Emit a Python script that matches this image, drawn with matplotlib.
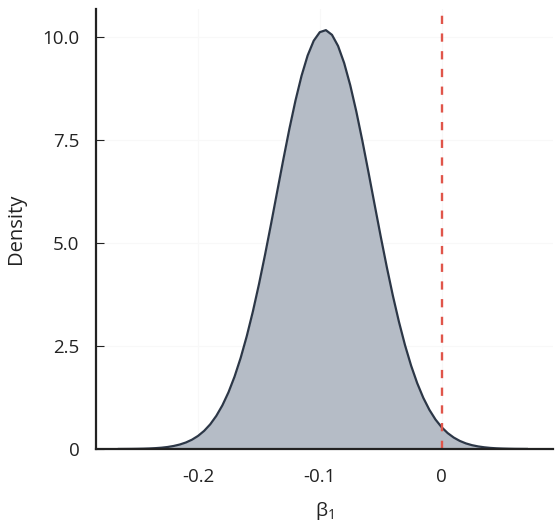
import numpy as np
import matplotlib
matplotlib.use("Agg")
import matplotlib.pyplot as plt

plt.rcParams['font.family'] = ['Open Sans', 'DejaVu Sans']
plt.rcParams['mathtext.default'] = 'regular'

# posterior density of beta_1
beta = [-0.265, -0.260, -0.255, -0.250, -0.245, -0.240, -0.235, -0.230, -0.225, -0.220,
        -0.215, -0.210, -0.205, -0.200, -0.195, -0.190, -0.185, -0.180, -0.175, -0.170,
        -0.165, -0.160, -0.155, -0.150, -0.145, -0.140, -0.135, -0.130, -0.125, -0.120,
        -0.115, -0.110, -0.105, -0.100, -0.095, -0.090, -0.085, -0.080, -0.075, -0.070,
        -0.065, -0.060, -0.055, -0.050, -0.045, -0.040, -0.035, -0.030, -0.025, -0.020,
        -0.015, -0.010, -0.005, 0.000, 0.005, 0.010, 0.015, 0.020, 0.025, 0.030,
        0.035, 0.040, 0.045, 0.050, 0.055, 0.060, 0.065, 0.070]
density = [0.001, 0.002, 0.003, 0.005, 0.008, 0.013, 0.021, 0.032, 0.049, 0.074,
           0.109, 0.158, 0.226, 0.318, 0.440, 0.599, 0.804, 1.060, 1.376, 1.758,
           2.211, 2.737, 3.333, 3.995, 4.712, 5.468, 6.247, 7.021, 7.768, 8.455,
           9.058, 9.551, 9.910, 10.118, 10.167, 10.053, 9.783, 9.369, 8.830, 8.190,
           7.474, 6.713, 5.934, 5.162, 4.419, 3.722, 3.087, 2.518, 2.022, 1.598,
           1.242, 0.951, 0.716, 0.531, 0.387, 0.278, 0.196, 0.136, 0.093, 0.063,
           0.042, 0.027, 0.017, 0.011, 0.007, 0.004, 0.003, 0.002]
ref_value = 0.0

xticks = [-0.2, -0.1, 0.0]
xticklabels = ['-0.2', '-0.1', '0']
yticks = [0, 2.5, 5.0, 7.5, 10.0]
yticklabels = ['0', '2.5', '5.0', '7.5', '10.0']

fig = plt.figure(figsize=(5.6, 5.3), dpi=100)
ax = fig.add_axes([0.1714, 0.1528, 0.8161, 0.8302])

ax.fill_between(beta, density, 0, color='#b5bcc6', linewidth=0)
ax.plot(beta, density, color='#2c3747', linewidth=1.6, solid_joinstyle='round')
ax.axvline(ref_value, color='#e0554a', linewidth=1.7, dashes=(3.5, 4.0))

ax.set_xlim(-0.2838, 0.0915)
ax.set_ylim(0, 10.68)
ax.set_xticks(xticks)
ax.set_xticklabels(xticklabels)
ax.set_yticks(yticks)
ax.set_yticklabels(yticklabels)
ax.grid(True, color='#f8f8f8', linewidth=0.8)
ax.set_axisbelow(True)

for side in ['top', 'right']:
    ax.spines[side].set_visible(False)
for side in ['left', 'bottom']:
    ax.spines[side].set_linewidth(1.6)
    ax.spines[side].set_color('#222222')

ax.tick_params(axis='both', direction='in', length=6, width=0.8, color='#222222',
               labelsize=13.5, labelcolor='#222222')
ax.tick_params(axis='x', pad=14)
ax.tick_params(axis='y', pad=12)

ax.set_xlabel('β$_1$', fontsize=14, color='#222222', labelpad=10)
ax.set_ylabel('Density', fontsize=14.5, color='#222222', labelpad=12)

fig.savefig('out.png', dpi=100)
